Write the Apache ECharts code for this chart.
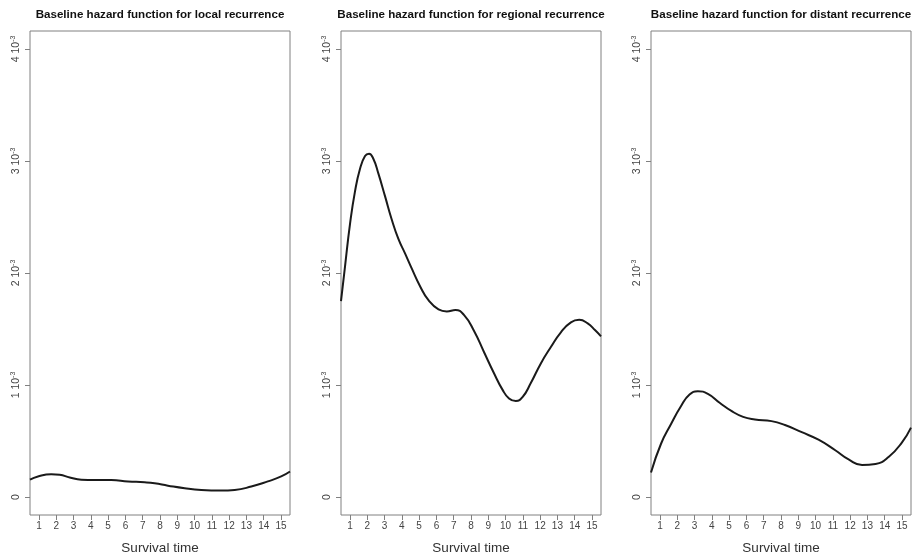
<!DOCTYPE html>
<html>
<head>
<meta charset="utf-8">
<script src="https://cdn.jsdelivr.net/npm/echarts@6/dist/echarts.min.js"></script>
<style>
  html, body { margin: 0; padding: 0; background: #fff; }
  #chart { width: 914px; height: 560px; }
</style>
</head>
<body>
<div id="chart"></div>
<script>
// Baseline hazard estimates (per unit time) for three recurrence types
const panelTitles = [
  'Baseline hazard function for local recurrence',
  'Baseline hazard function for regional recurrence',
  'Baseline hazard function for distant recurrence'
];

const localTime = [0.48, 0.94, 1.71, 2.2, 2.78, 3.45, 4.22, 5.18, 6.15, 7.11, 7.69, 8.46, 9.43, 10.39, 11.54, 12.32, 13.28, 14.24, 15.01, 15.52];
const localHazard = [0.000155, 0.000184, 0.000204, 0.000199, 0.000175, 0.000155, 0.000152, 0.000152, 0.000140, 0.000132, 0.000123, 0.000102, 0.000079, 0.000064, 0.000059, 0.000064, 0.000094, 0.000140, 0.000184, 0.000228];

const regionalTime = [0.48, 0.71, 1.0, 1.29, 1.58, 1.87, 2.10, 2.35, 2.64, 3.03, 3.41, 3.80, 4.19, 4.57, 5.06, 5.54, 6.12, 6.60, 7.10, 7.59, 8.17, 8.75, 9.33, 9.82, 10.2, 10.59, 10.98, 11.46, 12.04, 12.62, 13.20, 13.78, 14.26, 14.75, 15.17, 15.52];
const regionalHazard = [0.001748, 0.002055, 0.002436, 0.002728, 0.002930, 0.003044, 0.003064, 0.003020, 0.002889, 0.002684, 0.002480, 0.002304, 0.002173, 0.002041, 0.001880, 0.001757, 0.001675, 0.001657, 0.001670, 0.001626, 0.001485, 0.001295, 0.001105, 0.000959, 0.000880, 0.000857, 0.000892, 0.001018, 0.001193, 0.001339, 0.001471, 0.001559, 0.001582, 0.001550, 0.001491, 0.001435];

const distantTime = [0.48, 1.06, 1.64, 2.22, 2.71, 3.19, 3.77, 4.45, 5.13, 5.81, 6.49, 7.45, 8.23, 9.2, 10.17, 11.14, 11.91, 12.69, 13.47, 14.24, 15.01, 15.52];
const distantHazard = [0.000220, 0.000476, 0.000652, 0.000813, 0.000915, 0.000945, 0.000921, 0.000842, 0.000769, 0.000716, 0.000693, 0.000678, 0.000643, 0.000579, 0.000512, 0.000418, 0.000336, 0.000287, 0.000296, 0.000360, 0.000491, 0.000620];

const xTicks = [1, 2, 3, 4, 5, 6, 7, 8, 9, 10, 11, 12, 13, 14, 15];
const yTicks = [0, 0.001, 0.002, 0.003, 0.004];
const yTickMantissa = ['0', '1', '2', '3', '4'];

const series = [
  [localTime, localHazard],
  [regionalTime, regionalHazard],
  [distantTime, distantHazard]
];

const lefts = [30, 341, 651];
const gridTop = 31, gridHeight = 493, gridWidth = 260;
const font = 'Liberation Sans, Arial, sans-serif';

const chart = echarts.init(document.getElementById('chart'), null, { renderer: 'canvas' });

function yLabel(v) {
  const i = yTicks.findIndex(t => Math.abs(t - v) < 1e-9);
  if (i === 0) return '{b|0}';
  return '{b|' + yTickMantissa[i] + ' 10}{s|-3}';
}

const option = {
  animation: false,
  backgroundColor: '#ffffff',
  title: panelTitles.map((t, i) => ({
    text: t,
    left: lefts[i] + gridWidth / 2,
    top: 9,
    padding: 0,
    textAlign: 'center',
    textStyle: { fontFamily: font, fontSize: 11.6, fontWeight: 'bold', color: '#111' }
  })),
  grid: lefts.map(l => ({
    left: l, top: gridTop, width: gridWidth, height: gridHeight,
    show: true, borderColor: '#808080', borderWidth: 1, backgroundColor: 'transparent'
  })),
  xAxis: lefts.map((l, i) => ({
    type: 'value', gridIndex: i, min: 0.48, max: 15.52, position: 'bottom',
    name: 'Survival time', nameLocation: 'middle', nameGap: 26,
    nameTextStyle: { fontFamily: font, fontSize: 13.5, color: '#333' },
    axisLine: { show: false, onZero: false },
    splitLine: { show: false },
    axisTick: { show: true, length: 5, customValues: xTicks, lineStyle: { color: '#808080' } },
    axisLabel: { customValues: xTicks, margin: 6, fontFamily: font, fontSize: 10, color: '#444' }
  })),
  yAxis: lefts.map((l, i) => ({
    type: 'value', gridIndex: i, min: -0.00016, max: 0.00416, position: 'left',
    axisLine: { show: false, onZero: false },
    splitLine: { show: false },
    axisTick: { show: true, length: 5, customValues: yTicks, lineStyle: { color: '#808080' } },
    axisLabel: {
      customValues: yTicks, rotate: 90, margin: 8,
      formatter: yLabel,
      rich: {
        b: { fontFamily: font, fontSize: 10.5, color: '#444', verticalAlign: 'bottom', lineHeight: 12 },
        s: { fontFamily: font, fontSize: 7, color: '#444', verticalAlign: 'top', lineHeight: 12, padding: [0, 0, 6, 0] }
      }
    }
  })),
  series: series.map((s, i) => ({
    type: 'line', xAxisIndex: i, yAxisIndex: i,
    data: s[0].map((t, k) => [t, s[1][k]]),
    smooth: 0.5, showSymbol: false, clip: true,
    lineStyle: { color: '#1a1a1a', width: 2 }
  }))
};

chart.setOption(option);
</script>
</body>
</html>
